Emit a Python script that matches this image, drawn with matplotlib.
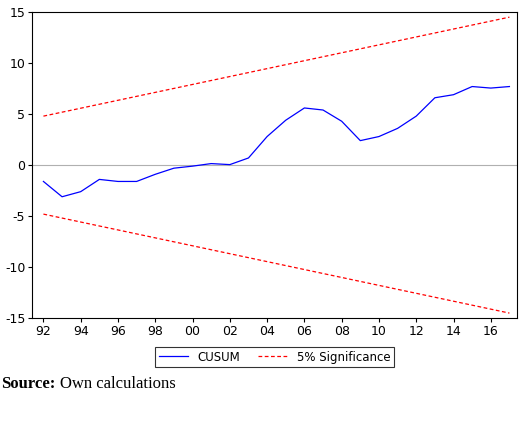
import matplotlib
matplotlib.use("Agg")
import matplotlib.pyplot as plt
import numpy as np

plt.rcParams["axes.unicode_minus"] = False

years = list(range(1992, 2018))
cusum = [-1.6, -3.1, -2.6, -1.4, -1.6, -1.6, -0.9, -0.3, -0.1, 0.15, 0.05, 0.7,
         2.8, 4.4, 5.6, 5.4, 4.3, 2.4, 2.8, 3.6, 4.8, 6.6, 6.9, 7.7, 7.55, 7.7]
bound_start, bound_end = 4.8, 14.5
xtick_years = list(range(1992, 2018, 2))
xtick_labels = ["%02d" % (y % 100) for y in xtick_years]

x = np.array(years)
upper = bound_start + (bound_end - bound_start) * (x - x[0]) / (x[-1] - x[0])

fig = plt.figure(figsize=(5.2, 4.3), dpi=100)
ax = fig.add_axes([0.062, 0.26, 0.932, 0.712])
ax.axhline(0, color="#b0b0b0", lw=0.8)
ax.plot(x, cusum, color="#0000ff", lw=0.9, label="CUSUM")
ax.plot(x, upper, color="#ff0000", lw=0.9, ls="--", dashes=(3, 2), label="5% Significance")
ax.plot(x, -upper, color="#ff0000", lw=0.9, ls="--", dashes=(3, 2))
ax.set_xlim(1991.4, 2017.4)
ax.set_ylim(-15, 15)
ax.set_yticks([-15, -10, -5, 0, 5, 10, 15])
ax.set_xticks(xtick_years)
ax.set_xticklabels(xtick_labels)
ax.tick_params(labelsize=9, direction="out", length=3, pad=2)
for s in ax.spines.values():
    s.set_linewidth(0.8)
leg = ax.legend(loc="upper center", bbox_to_anchor=(0.5, -0.075), ncol=2, fontsize=8.5,
                frameon=True, fancybox=False, edgecolor="black", handlelength=2.5,
                borderpad=0.3, columnspacing=1.5)
leg.get_frame().set_linewidth(0.8)
t = fig.text(0.003, 0.108, "Source:", fontsize=12, family="Liberation Serif",
             weight="bold", va="center")
fig.canvas.draw()
bb = t.get_window_extent()
fig.text(bb.x1 / fig.bbox.width + 0.008, 0.108, "Own calculations", fontsize=12,
         family="Liberation Serif", va="center")
fig.savefig("out.png", dpi=100)
